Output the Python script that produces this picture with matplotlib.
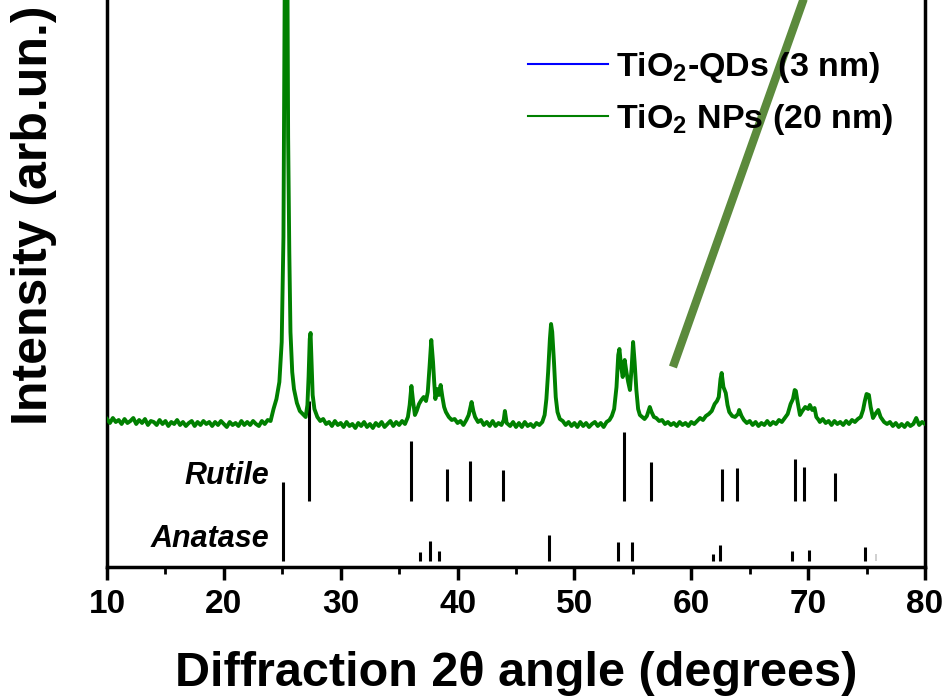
import numpy as np
import matplotlib
matplotlib.use("Agg")
import matplotlib.pyplot as plt
from matplotlib.lines import Line2D

# XRD pattern of the TiO2 NPs (20 nm) (arb. units)
two_theta = [
    10.0, 10.25, 10.5, 10.75, 11.0, 11.25, 11.5, 11.75, 12.0, 12.25, 12.5, 12.75,
    13.0, 13.25, 13.5, 13.75, 14.0, 14.25, 14.5, 14.75, 15.0, 15.25, 15.5, 15.75,
    16.0, 16.25, 16.5, 16.75, 17.0, 17.25, 17.5, 17.75, 18.0, 18.25, 18.5, 18.75,
    19.0, 19.25, 19.5, 19.75, 20.0, 20.25, 20.5, 20.75, 21.0, 21.25, 21.5, 21.75,
    22.0, 22.25, 22.5, 22.75, 23.0, 23.25, 23.5, 23.75, 24.0, 24.25, 24.5, 24.75,
    24.95, 25.1, 25.2, 25.3, 25.4, 25.5, 25.6, 25.7, 25.85, 26.0, 26.25, 26.5,
    26.75, 27.0, 27.15, 27.25, 27.35, 27.42, 27.5, 27.6, 27.75, 28.0, 28.25, 28.5,
    28.75, 29.0, 29.25, 29.5, 29.75, 30.0, 30.25, 30.5, 30.75, 31.0, 31.25, 31.5,
    31.75, 32.0, 32.25, 32.5, 32.75, 33.0, 33.25, 33.5, 33.75, 34.0, 34.25, 34.5,
    34.75, 35.0, 35.25, 35.5, 35.75, 35.9, 36.05, 36.2, 36.35, 36.5, 36.7, 36.9,
    37.1, 37.3, 37.45, 37.6, 37.75, 37.9, 38.0, 38.1, 38.25, 38.4, 38.55, 38.7,
    38.85, 39.0, 39.25, 39.5, 39.75, 40.0, 40.25, 40.5, 40.75, 40.95, 41.1, 41.2,
    41.35, 41.5, 41.75, 42.0, 42.25, 42.5, 42.75, 43.0, 43.25, 43.5, 43.75, 43.95,
    44.05, 44.2, 44.5, 44.75, 45.0, 45.25, 45.5, 45.75, 46.0, 46.25, 46.5, 46.75,
    47.0, 47.25, 47.45, 47.6, 47.75, 47.9, 48.0, 48.1, 48.25, 48.4, 48.55, 48.75,
    49.0, 49.25, 49.5, 49.75, 50.0, 50.25, 50.5, 50.75, 51.0, 51.25, 51.5, 51.75,
    52.0, 52.25, 52.5, 52.75, 53.0, 53.2, 53.4, 53.6, 53.75, 53.85, 54.0, 54.13,
    54.3, 54.45, 54.6, 54.75, 54.9, 55.02, 55.15, 55.3, 55.45, 55.6, 55.8, 56.0,
    56.2, 56.45, 56.6, 56.8, 57.0, 57.25, 57.5, 57.75, 58.0, 58.25, 58.5, 58.75,
    59.0, 59.25, 59.5, 59.75, 60.0, 60.25, 60.5, 60.75, 61.0, 61.25, 61.5, 61.75,
    62.0, 62.2, 62.35, 62.5, 62.6, 62.75, 62.95, 63.1, 63.25, 63.5, 63.75, 64.0,
    64.1, 64.3, 64.5, 64.75, 65.0, 65.25, 65.5, 65.75, 66.0, 66.25, 66.5, 66.75,
    67.0, 67.25, 67.5, 67.75, 68.0, 68.25, 68.5, 68.7, 68.85, 68.95, 69.1, 69.3,
    69.5, 69.75, 70.0, 70.15, 70.35, 70.55, 70.7, 70.9, 71.0, 71.25, 71.5, 71.75,
    72.0, 72.25, 72.5, 72.75, 73.0, 73.25, 73.5, 73.75, 74.0, 74.25, 74.5, 74.7,
    74.85, 75.0, 75.2, 75.35, 75.55, 75.75, 76.0, 76.2, 76.5, 76.75, 77.0, 77.25,
    77.5, 77.75, 78.0, 78.25, 78.5, 78.75, 79.0, 79.25, 79.5, 79.75, 80.0,
]
intensity_np = [
    148, 144, 149, 145, 147, 143, 148, 144, 146, 149, 143, 147,
    144, 148, 142, 146, 145, 142, 147, 143, 146, 141, 145, 143,
    147, 142, 145, 141, 144, 146, 141, 145, 142, 146, 143, 145,
    141, 145, 142, 146, 143, 140, 145, 142, 144, 141, 146, 142,
    145, 142, 146, 143, 141, 146, 143, 147, 146, 158, 168, 185,
    225, 330, 560, 950, 700, 430, 315, 235, 195, 178, 164, 156,
    153, 150, 162, 190, 228, 234, 205, 172, 158, 150, 146, 148,
    143, 145, 141, 146, 142, 144, 140, 145, 141, 143, 139, 144,
    141, 145, 140, 143, 139, 144, 141, 145, 140, 143, 146, 141,
    145, 142, 146, 143, 150, 162, 181, 165, 152, 156, 163, 167,
    170, 166, 175, 200, 227, 205, 185, 168, 178, 172, 182, 170,
    160, 155, 150, 147, 148, 144, 146, 142, 147, 152, 160, 165,
    156, 150, 145, 147, 142, 145, 141, 146, 141, 144, 142, 147,
    156, 144, 141, 145, 140, 144, 140, 145, 141, 143, 140, 144,
    142, 145, 152, 168, 195, 228, 243, 235, 205, 170, 155, 148,
    146, 142, 145, 141, 144, 140, 145, 141, 144, 140, 143, 145,
    141, 144, 140, 145, 147, 151, 158, 180, 212, 218, 200, 190,
    207, 195, 185, 177, 200, 225, 205, 177, 158, 152, 150, 148,
    151, 160, 155, 150, 149, 146, 147, 143, 145, 142, 144, 141,
    145, 142, 144, 141, 145, 143, 146, 149, 147, 151, 153, 156,
    163, 166, 170, 188, 194, 180, 174, 162, 155, 151, 150, 153,
    157, 151, 147, 144, 146, 142, 145, 141, 144, 142, 146, 142,
    145, 143, 147, 145, 149, 153, 163, 168, 177, 176, 165, 152,
    156, 160, 158, 162, 157, 159, 150, 147, 145, 148, 144, 146,
    142, 146, 143, 145, 142, 146, 143, 147, 145, 148, 150, 157,
    166, 173, 172, 160, 149, 153, 157, 150, 145, 143, 145, 141,
    144, 140, 143, 140, 144, 141, 143, 149, 142, 145, 143,
]

# reference stick patterns (position, relative height)
rutile_pos = [27.3, 36.0, 39.1, 41.1, 43.9, 54.25, 56.55, 62.65, 63.95, 68.9, 69.65, 72.3]
rutile_h = [100, 60, 32, 40, 31, 69, 39, 32, 33, 42, 34, 28]
anatase_pos = [25.1, 36.8, 37.65, 38.4, 47.85, 53.7, 54.9, 61.9, 62.5, 68.6, 70.1, 74.85]
anatase_h = [79, 9, 20, 10, 26, 19, 19, 7, 16, 10, 11, 14]
anatase_faint_pos = [75.8]
anatase_faint_h = [7]

rutile_base = 66
anatase_base = 6

# leftover pointer line from the original figure (goes up off the chart)
pointer_x = [58.43, 71.2]
pointer_y = [200, 620]

plt.rcParams['font.family'] = ['Liberation Sans', 'DejaVu Sans']
plt.rcParams['font.weight'] = 'bold'
plt.rcParams['axes.labelweight'] = 'bold'
plt.rcParams['mathtext.fontset'] = 'custom'
plt.rcParams['mathtext.rm'] = 'Liberation Sans:bold'
plt.rcParams['mathtext.default'] = 'rm'

fig = plt.figure(figsize=(9.48, 6.96), dpi=100)
ax = fig.add_axes([107 / 948, 129 / 696, 818 / 948, 567 / 696])

ax.plot(two_theta, intensity_np, color='#008000', lw=2.8, zorder=3)

ax.vlines(rutile_pos, rutile_base, np.array(rutile_h) + rutile_base, color='black', lw=2.2)
ax.vlines(anatase_pos, anatase_base, np.array(anatase_h) + anatase_base, color='black', lw=2.2)
ax.vlines(anatase_faint_pos, anatase_base, np.array(anatase_faint_h) + anatase_base,
          color='#c8c8c8', lw=1.2)

ax.plot(pointer_x, pointer_y, color='#5b8a3c', lw=6, solid_capstyle='butt', zorder=4)

ax.text(23.9, 567 - 476, 'Rutile', style='italic', fontsize=22, ha='right', va='center')
ax.text(23.9, 567 - 539, 'Anatase', style='italic', fontsize=22, ha='right', va='center')

handles = [Line2D([], [], color='#0000ff', lw=1.5),
           Line2D([], [], color='#008000', lw=1.5)]
labels = [r'TiO$_2$-QDs (3 nm)', r'TiO$_2$ NPs (20 nm)']
ax.legend(handles, labels, loc='upper left', bbox_to_anchor=(528 / 948, 1 - 50 / 696),
          bbox_transform=fig.transFigure, frameon=False, fontsize=24.5,
          handlelength=2.35, handletextpad=0.25, labelspacing=0.5, borderpad=0,
          borderaxespad=0)

ax.set_xlim(10, 80)
ax.set_ylim(0, 567)
ax.set_xticks(range(10, 81, 10))
ax.set_xticks(range(15, 80, 10), minor=True)
ax.set_yticks([])
ax.spines['top'].set_visible(False)
for s in ('left', 'right', 'bottom'):
    ax.spines[s].set_linewidth(2.5)
ax.tick_params(axis='x', which='major', length=9, width=2.5, labelsize=24, pad=7)
ax.tick_params(axis='x', which='minor', length=5, width=2.0)

ax.set_xlabel('Diffraction 2θ angle (degrees)', fontsize=35, fontweight='bold', labelpad=22)
ax.set_ylabel('Intensity (arb.un.)', fontsize=36, fontweight='bold')
ax.yaxis.set_label_coords((57 - 107) / 818, (567 - 215) / 567)

fig.savefig('out.png', dpi=100)
